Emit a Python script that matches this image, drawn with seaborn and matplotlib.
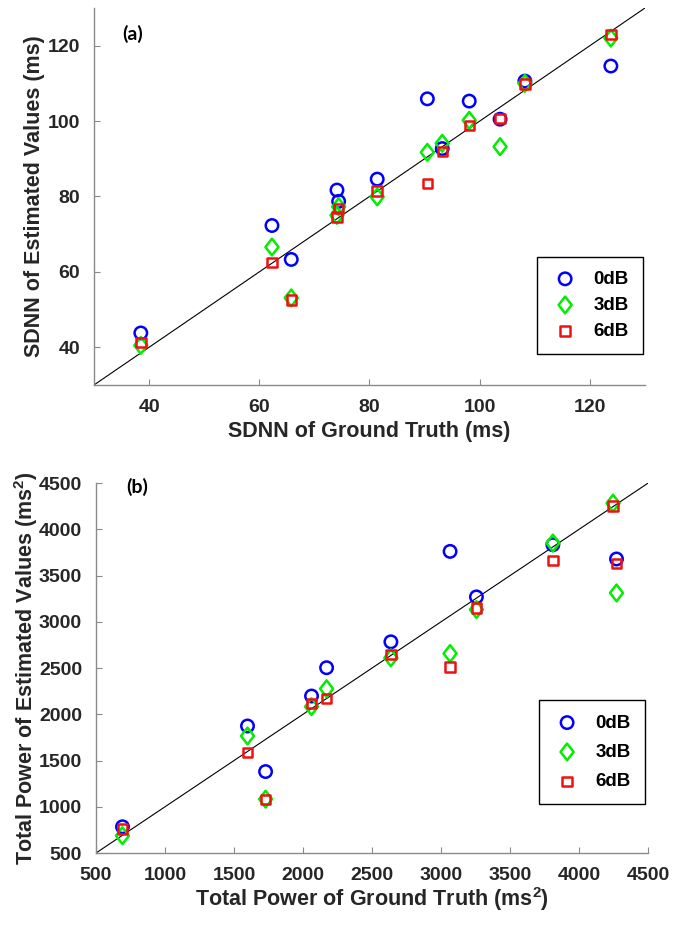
import numpy as np
import pandas as pd
import seaborn as sns
import matplotlib.pyplot as plt
from matplotlib.path import Path

# (a) SDNN, ms
sdnn_truth = [38.5, 62.3, 65.8, 74.1, 74.4, 81.4, 90.5, 93.2, 98.1, 103.7, 108.2, 123.8]
sdnn_0db = [43.8, 72.3, 63.3, 81.7, 78.7, 84.6, 105.9, 92.7, 105.3, 100.5, 110.6, 114.6]
sdnn_3db = [40.5, 66.6, 53.1, 75.0, 77.3, 79.9, 91.7, 94.1, 100.2, 93.2, 110.0, 122.0]
sdnn_6db = [41.2, 62.5, 52.5, 74.6, 76.8, 81.4, 83.5, 91.9, 98.9, 100.7, 109.8, 122.9]

# (b) total power, ms^2
tp_truth = [692, 1598, 1729, 2062, 2171, 2637, 3066, 3257, 3811, 4247, 4272]
tp_0db = [784, 1874, 1381, 2198, 2504, 2784, 3762, 3270, 3834, np.nan, 3680]
tp_3db = [687, 1766, 1083, 2083, 2277, 2611, 2658, 3133, 3852, 4284, 3313]
tp_6db = [759, 1586, 1076, 2115, 2169, 2647, 2514, 3151, 3665, 4255, 3629]

noise_labels = ['0dB', '3dB', '6dB']

sns.set_style('ticks')
plt.rcParams['font.family'] = ['Liberation Sans', 'DejaVu Sans']
plt.rcParams['font.weight'] = 'bold'
plt.rcParams['axes.labelweight'] = 'bold'
plt.rcParams['mathtext.fontset'] = 'custom'
plt.rcParams['mathtext.rm'] = 'Liberation Sans:bold'
plt.rcParams['mathtext.default'] = 'rm'

# matlab style tall diamond
diamond = Path([(0, 1), (0.78, 0), (0, -1), (-0.78, 0), (0, 1)],
               [Path.MOVETO, Path.LINETO, Path.LINETO, Path.LINETO, Path.CLOSEPOLY])
styles = {
    '0dB': dict(marker='o', s=80, edgecolor='#0000ff'),
    '3dB': dict(marker=diamond, s=145, edgecolor='#00ee00'),
    '6dB': dict(marker='s', s=46, edgecolor='#ee1111'),
}

text_col = '#262626'
spine_col = '#8a8a8a'


def draw_panel(ax, truth, series, lims, ticks, xlabel, ylabel, tag, tag_xy,
               xlab_xy, ylab_xy, leg_xy, leg_space):
    ax.plot(lims, lims, color='black', lw=0.8, zorder=1)
    for name, vals in zip(noise_labels, series):
        df = pd.DataFrame({'truth': truth, 'est': vals})
        st = styles[name]
        sns.scatterplot(data=df, x='truth', y='est', ax=ax, marker=st['marker'],
                        s=st['s'], facecolor='none', edgecolor=st['edgecolor'],
                        linewidth=1.8, label=name, zorder=3)
    ax.set_xlim(lims)
    ax.set_ylim(lims)
    ax.set_xticks(ticks)
    ax.set_yticks(ticks)
    ax.tick_params(direction='in', length=4, width=0.8, color=spine_col,
                   labelsize=14, labelcolor=text_col, pad=10)
    for lab in ax.get_xticklabels() + ax.get_yticklabels():
        lab.set_fontweight('bold')
    sns.despine(ax=ax)
    for side in ['left', 'bottom']:
        ax.spines[side].set_color(spine_col)
        ax.spines[side].set_linewidth(1.0)
    ax.set_xlabel(xlabel, fontsize=15.5, color=text_col)
    ax.set_ylabel(ylabel, fontsize=15.5, color=text_col)
    ax.xaxis.set_label_coords(*xlab_xy)
    ax.yaxis.set_label_coords(*ylab_xy)
    ax.text(tag_xy[0], tag_xy[1], tag, transform=ax.transAxes, ha='center',
            va='center', fontsize=14, fontweight='bold', family='Lato', color='black')
    leg = ax.legend(loc='lower left', bbox_to_anchor=leg_xy, borderaxespad=0,
                    fontsize=13.5, frameon=True, fancybox=False, framealpha=1,
                    edgecolor='black', borderpad=0.75, labelspacing=leg_space,
                    handlelength=1.5, handletextpad=0.75)
    leg.get_frame().set_linewidth(1.0)
    for t in leg.get_texts():
        t.set_fontweight('bold')
        t.set_color('black')


fig = plt.figure(figsize=(6.9, 9.27), dpi=100)
ax_a = fig.add_axes([0.1362, 0.5847, 0.7986, 0.4067])
ax_b = fig.add_axes([0.1391, 0.0798, 0.8, 0.399])

draw_panel(ax_a, sdnn_truth, [sdnn_0db, sdnn_3db, sdnn_6db], (30, 130),
           [40, 60, 80, 100, 120], 'SDNN of Ground Truth (ms)',
           'SDNN of Estimated Values (ms)', '(a)', (0.070, 0.931),
           (0.5, -0.095), (-0.089, 0.5), (0.804, 0.082), 0.48)

draw_panel(ax_b, tp_truth, [tp_0db, tp_3db, tp_6db], (500, 4500),
           list(range(500, 4501, 500)), 'Total Power of Ground Truth (ms$^2$)',
           'Total Power of Estimated Values (ms$^2$)', '(b)', (0.075, 0.99),
           (0.5, -0.088), (-0.101, 0.5), (0.8025, 0.132), 0.65)

plt.savefig('out.png', dpi=100)
